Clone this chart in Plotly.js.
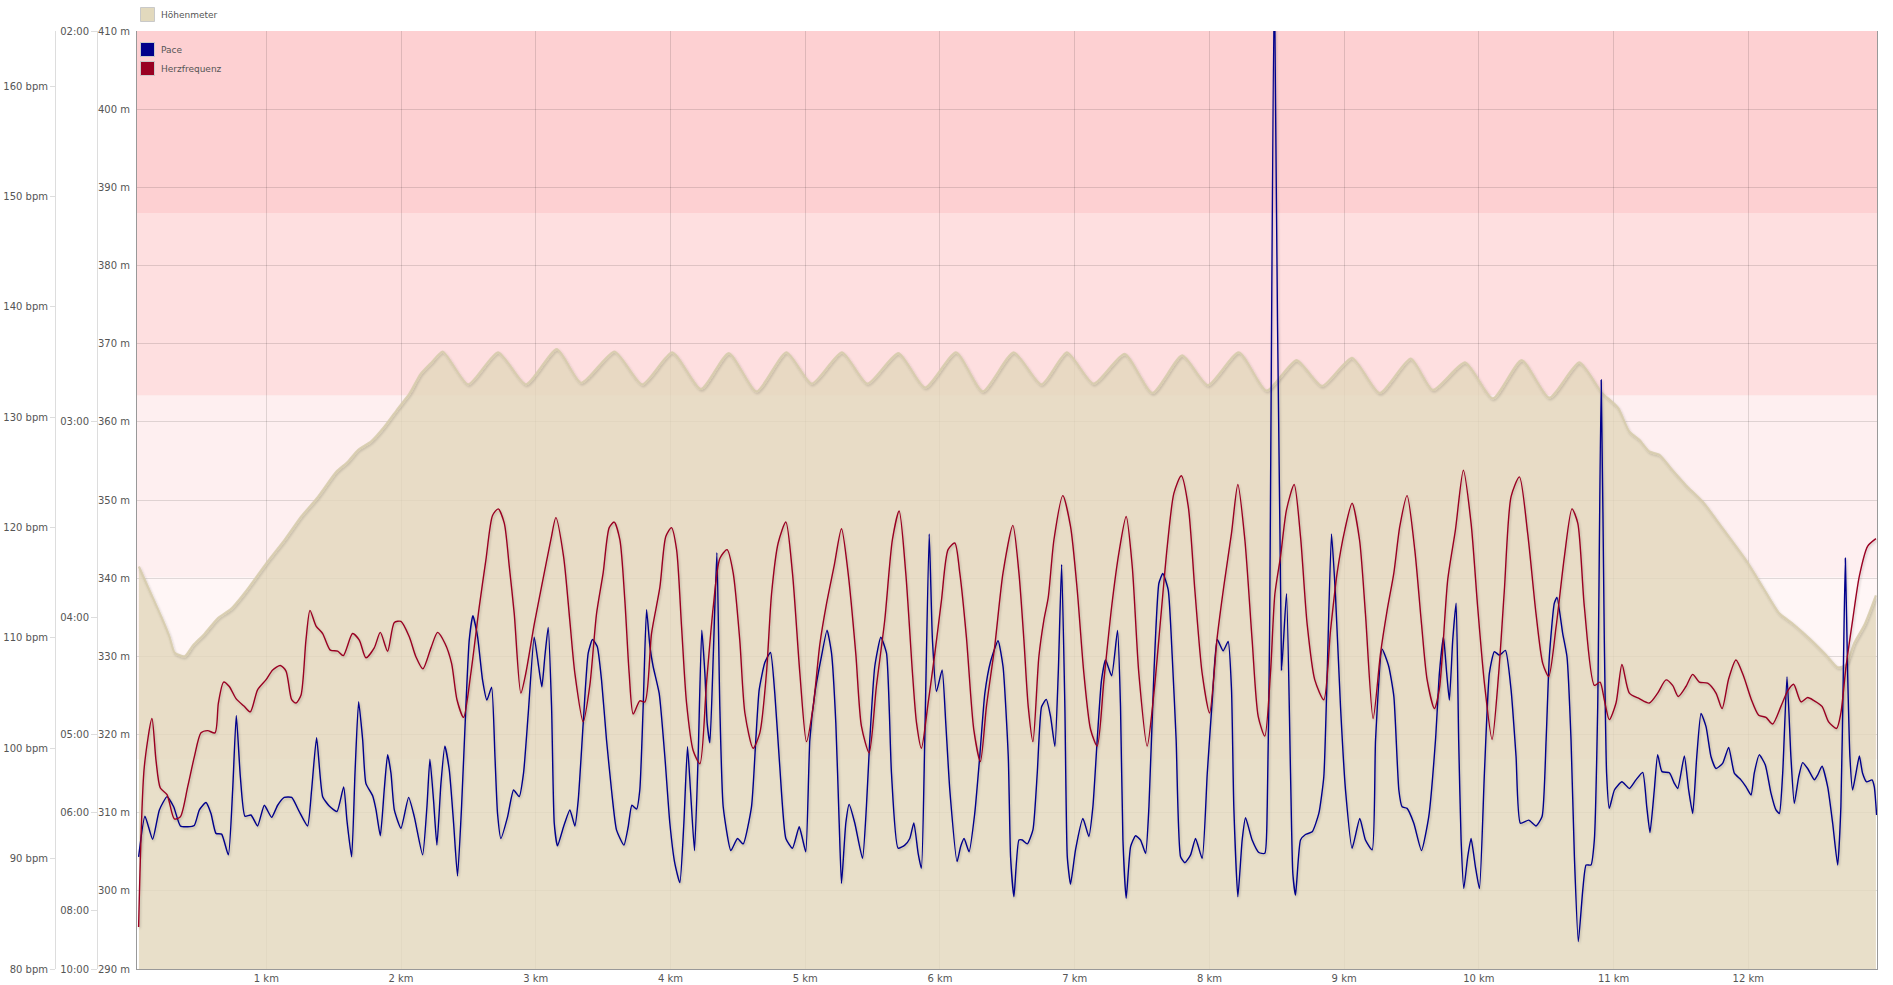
<!DOCTYPE html>
<html>
<head>
<meta charset="utf-8">
<script src="https://cdn.plot.ly/plotly-3.0.1.min.js"></script>
<style>
  html, body { margin: 0; padding: 0; background: #fff; }
  #chart { width: 1893px; height: 985px; }
  #chart .scatterlayer .trace .js-line { filter: url(#sh); }
</style>
</head>
<body>
<svg width="0" height="0" style="position:absolute">
  <defs>
    <filter id="sh" x="-2%" y="-2%" width="104%" height="110%">
      <feDropShadow dx="1" dy="1.5" stdDeviation="1" flood-color="#000" flood-opacity="0.2"/>
    </filter>
  </defs>
</svg>
<div id="chart"></div>
<script>
// ---------- data (distance in km) ----------
const elevKm = [0.054,0.121,0.220,0.282,0.319,0.393,0.455,0.542,0.641,0.740,0.838,0.999,1.135,1.259,1.383,1.519,1.605,1.680,1.778,1.877,1.976,2.062,2.144,2.226,
  2.309,2.498,2.720,2.926,3.156,3.337,3.584,3.790,4.012,4.226,4.432,4.638,4.860,5.049,5.272,5.461,5.691,5.889,6.119,6.317,6.547,6.753,6.942,7.140,7.370,7.576,
  7.798,7.988,8.218,8.424,8.646,8.835,9.058,9.263,9.494,9.658,9.897,10.103,10.317,10.523,10.745,
  10.909,11.033,11.115,11.191,11.265,11.339,11.438,11.537,11.661,11.809,11.983,12.106,12.230,12.329,12.453,12.576,12.663,12.725,12.786,12.861,12.947];
const elevM = [341.5,338.9,335.1,332.5,330.5,330.0,331.4,332.9,334.9,336.1,338.1,341.9,344.9,347.9,350.4,353.6,354.9,356.4,357.5,359.4,361.7,363.6,366.1,367.6,
  369.0,364.8,368.9,364.8,369.3,365.0,369.0,364.8,368.9,364.2,368.8,363.9,368.9,364.9,368.9,364.9,368.8,364.4,368.9,363.9,368.9,364.8,368.9,364.9,368.7,363.7,
  368.5,364.7,368.9,364.0,367.9,364.6,368.2,363.7,368.1,364.1,367.6,363.0,367.9,363.1,367.6,
  363.8,361.8,358.8,357.7,356.2,355.8,353.8,351.9,349.8,346.4,342.3,338.9,335.5,334.2,332.3,330.2,328.6,328.9,331.7,334.0,337.8];

const hrKm = [0.052,0.094,0.151,0.181,0.213,0.263,0.317,0.362,0.416,0.465,0.515,0.564,0.619,0.644,0.683,0.725,0.775,0.836,0.881,0.935,0.997,1.047,1.104,1.146,
  1.188,1.220,1.257,1.294,1.324,1.368,1.418,1.475,1.529,1.571,1.640,1.690,1.739,1.801,1.846,1.900,1.950,1.999,2.061,2.110,2.162,2.222,2.271,2.326,2.375,2.415,
  2.464,2.518,2.580,2.630,2.679,2.721,2.766,2.803,2.840,2.889,2.926,2.988,3.050,3.112,3.149,3.206,
  3.253,3.290,3.352,3.401,3.451,3.500,3.545,3.582,3.624,3.661,3.693,3.723,3.772,3.810,3.859,3.921,3.965,4.007,4.045,4.082,4.119,4.168,4.218,4.267,4.317,4.366,
  4.420,4.465,4.514,4.552,4.613,4.663,4.712,4.750,4.799,4.856,4.905,4.960,5.009,5.059,5.108,5.158,5.214,5.269,5.318,5.375,5.417,5.474,5.528,5.590,5.647,5.697,
  5.746,5.796,5.826,5.862,5.912,5.962,6.011,6.060,6.110,6.147,6.196,6.251,6.300,6.345,6.406,6.468,
  6.541,6.586,6.623,6.655,6.690,6.734,6.771,6.804,6.846,6.912,6.969,7.019,7.068,7.118,7.167,7.217,7.274,7.328,7.382,7.427,7.476,7.538,7.588,7.637,7.687,7.736,
  7.791,7.843,7.892,7.946,8.001,8.058,8.107,8.164,8.211,8.263,8.317,8.362,8.411,8.453,8.486,8.528,8.572,8.629,8.676,8.725,8.782,8.849,8.899,8.948,9.005,9.059,
  9.114,9.158,9.215,9.270,9.319,9.369,9.413,9.467,9.524,9.574,9.616,9.670,
  9.707,9.769,9.826,9.885,9.942,9.991,10.041,10.098,10.147,10.189,10.239,10.301,10.362,10.424,10.474,10.518,10.573,10.635,10.691,10.734,10.783,10.857,10.899,
  10.931,10.968,11.018,11.062,11.117,11.191,11.265,11.327,11.389,11.438,11.480,11.537,11.587,11.636,11.698,11.760,11.805,11.854,11.908,11.963,12.020,12.077,
  12.131,12.180,12.242,12.292,12.336,12.391,12.440,12.490,12.547,12.596,12.655,12.687,12.725,12.774,12.824,12.885,12.947];
const hrBpm = [83.8,98.3,102.7,98.9,96.4,95.8,93.6,93.8,96.5,99.2,101.4,101.6,101.4,104.1,106.0,105.6,104.5,103.8,103.3,105.3,106.2,107.1,107.5,107.0,
  104.4,104.1,104.8,109.8,112.5,111.1,110.4,108.9,108.8,108.4,110.4,109.8,108.2,109.1,110.5,108.8,111.4,111.5,110.1,108.3,107.2,109.1,110.5,109.5,107.7,104.4,
  102.8,106.8,112.8,117.1,121.1,121.7,120.4,116.5,112.2,105.0,106.8,111.2,115.1,118.9,120.9,117.4,
  111.5,106.8,102.4,105.7,112.2,115.9,120.0,120.5,118.9,113.4,106.8,103.1,104.3,104.2,110.4,114.6,119.2,120.0,118.0,111.0,104.1,99.8,98.6,105.9,112.8,117.2,
  118.0,115.9,109.8,103.2,100.0,101.4,106.8,114.0,118.6,120.5,115.9,106.8,100.6,103.8,109.4,113.1,116.5,119.9,115.9,108.6,102.0,99.6,105.6,111.6,118.9,121.5,
  115.9,106.8,102.3,100.0,104.1,108.6,113.4,118.0,118.6,115.9,110.1,101.7,98.8,103.8,109.2,115.9,
  120.2,115.9,109.8,103.8,100.6,108.3,111.6,113.7,118.9,122.9,120.1,114.3,106.8,101.7,100.2,106.2,112.8,117.7,121.0,116.5,106.8,100.2,105.0,111.6,118.3,123.1,
  124.7,121.9,114.3,106.8,103.2,110.1,114.7,119.5,123.9,118.9,109.8,102.9,101.1,106.8,114.0,117.4,121.6,123.9,119.2,111.3,106.2,104.4,110.7,115.9,119.8,122.2,
  118.9,112.2,102.7,108.6,112.5,115.9,120.1,122.9,118.0,111.3,106.2,103.6,
  105.4,115.3,119.8,125.2,120.4,112.8,105.9,100.8,106.8,114.3,122.8,124.6,119.5,112.2,107.7,106.5,111.0,117.4,121.7,120.4,112.8,105.7,106.0,
  104.4,102.6,104.1,107.6,105.0,104.5,104.1,105.0,106.2,105.7,104.7,105.6,106.7,106.0,105.9,105.0,103.6,106.3,108.0,106.6,104.5,103.0,
  102.8,102.2,103.8,105.2,105.8,104.2,104.6,104.3,103.8,102.4,101.8,103.2,107.4,111.6,115.6,118.3,119.0];

// pace, stored as speed in km/h (the pace axis is linear in speed)
const paceKm = [0.052,0.099,0.156,0.206,0.263,0.312,0.362,0.416,0.465,0.503,0.552,0.589,0.626,0.668,0.718,0.750,0.777,0.807,0.841,0.886,0.935,0.985,1.039,
  1.084,1.133,1.188,1.244,1.306,1.336,1.373,1.418,1.467,1.524,1.574,1.598,1.633,1.658,1.685,1.715,1.739,1.789,1.814,1.846,1.875,1.900,1.925,1.950,1.999,2.056,
  2.098,2.160,2.192,2.214,2.241,2.266,2.296,2.325,2.358,2.390,2.419,2.449,2.481,2.506,2.533,2.568,2.605,2.637,2.672,2.697,2.716,2.741,2.791,2.835,2.877,2.909,
  2.944,2.988,3.021,3.045,3.067,3.092,3.117,3.137,3.161,3.206,
  3.253,3.290,3.315,3.352,3.389,3.421,3.456,3.488,3.525,3.562,3.599,3.654,3.686,3.713,3.748,3.772,3.797,3.822,3.847,3.871,3.916,3.958,3.995,4.032,4.069,4.099,
  4.126,4.148,4.178,4.205,4.232,4.255,4.272,4.292,4.317,4.344,4.366,4.391,4.448,4.497,4.539,4.601,4.633,4.658,4.700,4.742,4.774,4.811,4.856,4.905,4.955,4.979,
  5.004,5.034,5.071,5.120,5.162,5.195,5.227,5.252,5.269,5.301,5.326,5.368,5.425,5.454,5.479,5.516,5.561,5.603,5.640,5.689,5.739,5.776,5.806,5.838,5.862,5.887,
  5.920,5.944,5.974,6.016,6.043,6.073,6.127,6.153,6.179,6.216,6.258,6.295,6.333,6.375,6.431,6.468,
  6.507,6.524,6.549,6.586,6.611,6.648,6.690,6.722,6.754,6.789,6.821,6.853,6.878,6.903,6.927,6.945,6.969,7.006,7.061,7.105,7.135,7.167,7.199,7.229,7.274,7.318,
  7.340,7.358,7.382,7.415,7.452,7.489,7.526,7.551,7.588,7.625,7.654,7.694,7.724,7.753,7.786,7.818,7.860,7.897,7.946,7.984,8.021,8.058,8.102,8.139,8.164,8.181,
  8.211,8.243,8.268,8.317,8.367,8.411,8.429,8.446,8.482,8.535,8.572,8.602,8.619,8.639,8.676,8.713,8.763,8.812,8.849,8.874,8.906,8.936,8.973,9.010,9.059,9.116,
  9.158,9.208,9.233,9.282,9.331,9.369,9.406,9.430,9.467,9.517,9.574,9.628,9.678,
  9.707,9.737,9.761,9.781,9.806,9.831,9.850,9.868,9.888,9.917,9.942,9.974,10.004,10.041,10.078,10.115,10.152,10.197,10.239,10.276,10.308,10.370,10.424,10.469,
  10.499,10.523,10.560,10.580,10.622,10.654,10.684,10.709,10.738,10.771,10.796,10.832,10.857,10.882,10.908,10.931,10.948,10.968,11.006,11.062,11.117,11.166,
  11.216,11.246,11.270,11.302,11.327,11.359,11.414,11.451,11.476,11.525,11.557,11.587,11.617,11.649,11.686,11.723,11.760,11.809,11.854,11.896,11.945,11.983,
  12.020,12.044,12.081,12.126,12.168,12.205,12.230,12.255,12.287,12.316,12.341,12.374,12.403,12.440,12.490,12.514,12.547,12.589,12.626,12.663,12.687,12.705,
  12.720,12.737,12.754,12.774,12.799,12.824,12.848,12.878,12.918,12.935,12.952];
const paceSpeed = [8.87,9.91,9.32,10.07,10.41,10.15,9.66,9.64,9.67,10.07,10.26,9.98,9.47,9.45,8.92,10.58,12.49,10.92,9.91,9.94,9.66,10.19,9.88,
  10.19,10.39,10.39,10.03,9.66,10.58,11.92,10.41,10.17,10.03,10.66,9.81,8.87,11.01,12.84,11.86,10.75,10.43,10.07,9.41,10.58,11.48,11.01,10.07,9.60,10.39,
  9.90,8.92,10.15,11.37,10.32,9.17,10.75,11.70,11.09,9.73,8.38,10.15,12.71,14.42,15.04,14.50,13.39,12.88,13.21,11.43,9.98,9.34,9.90,10.58,10.41,11.01,
  12.54,14.49,13.74,13.22,13.99,14.74,12.71,9.73,9.15,9.64,
  10.07,9.66,10.32,12.29,14.08,14.43,14.25,13.39,11.86,10.58,9.56,9.17,9.64,10.19,10.09,10.58,12.71,15.19,14.25,13.74,13.05,11.43,9.73,8.70,8.21,9.73,
  11.69,10.58,9.03,11.43,14.67,13.57,12.29,11.79,13.99,16.65,12.71,10.15,9.03,9.34,9.20,10.15,11.86,13.14,13.84,14.10,13.05,11.18,9.34,9.09,9.64,9.34,
  9.00,11.86,13.05,13.99,14.67,14.08,12.29,9.73,8.19,9.73,10.21,9.73,8.83,10.15,11.86,13.74,14.49,14.08,11.01,9.09,9.17,9.34,9.74,8.96,8.58,11.86,
  17.13,14.42,13.10,13.65,12.29,10.58,8.75,9.13,9.34,9.00,9.98,11.43,13.05,13.86,14.40,13.74,
  11.43,8.87,7.85,9.30,9.30,9.20,9.56,11.01,12.71,12.90,12.46,11.70,13.57,16.35,12.71,8.87,8.17,9.05,9.85,9.39,10.15,11.86,13.39,13.91,13.50,14.66,
  12.71,9.30,7.81,9.13,9.41,9.30,8.96,10.15,13.57,15.87,16.12,15.70,13.99,11.86,8.87,8.72,8.92,9.34,8.83,11.01,12.88,14.43,14.14,14.38,13.14,10.15,
  7.85,9.30,9.87,9.30,8.98,8.96,10.15,14.42,31.5,13.65,15.60,11.01,8.45,7.89,9.30,9.44,9.51,9.98,10.92,13.57,17.13,15.53,12.71,10.58,9.09,9.85,
  9.30,9.05,11.86,14.18,13.74,12.97,10.58,10.15,10.11,9.73,9.03,9.90,11.86,
  13.57,14.50,13.57,12.88,14.42,15.36,11.86,9.30,8.06,8.87,9.34,8.62,8.06,11.01,13.57,14.12,14.03,14.15,13.14,11.43,9.73,9.81,9.66,9.90,
  11.86,13.99,15.36,15.51,14.59,13.99,11.86,8.87,6.70,8.02,8.66,8.66,9.30,12.71,21.07,14.42,11.01,10.11,10.58,10.79,10.62,10.84,
  11.03,10.15,9.49,10.58,11.48,11.05,11.02,10.75,10.62,11.45,10.58,9.98,11.43,12.54,12.20,11.43,11.13,11.26,11.67,11.01,10.84,10.66,
  10.45,11.01,11.48,11.22,10.50,10.07,9.98,11.01,13.48,11.43,10.24,10.92,11.28,11.13,10.84,10.96,11.19,10.66,9.73,8.66,10.15,13.57,
  16.51,13.57,11.43,10.58,11.01,11.45,11.01,10.79,10.84,10.66,9.94];

// pace axis ticks (speed in km/h -> pace label)
const paceTickSpeed = [6, 7.5, 10, 12, 15, 20, 30];
const paceTickText = ['10:00', '08:00', '06:00', '05:00', '04:00', '03:00', '02:00'];

// heart-rate axis range and zones (bpm) with their tint strength
const hrRange = [80, 165];
const hrZoneLow  = [99, 115.5, 132, 148.5];
const hrZoneHigh = [115.5, 132, 148.5, 165];
const hrZoneAlpha = [0.035, 0.063, 0.125, 0.184];

const seriesNames = ['Höhenmeter', 'Pace', 'Herzfrequenz'];
const colElev = '#e2d9bd';
const colPace = '#00008b';
const colHr = '#990022';

// ---------- figure ----------
const W = 1893, H = 985, ML = 0, MR = 16, MT = 31, MB = 16;
const PW = W - ML - MR, PH = H - MT - MB;
const px = v => v / PW;   // pixel -> paper x
const hrFrac = v => (v - hrRange[0]) / (hrRange[1] - hrRange[0]);

const traces = [
  { x: elevKm, y: elevM, yaxis: 'y', type: 'scatter', mode: 'lines', name: seriesNames[0],
    line: { color: 'rgba(214,203,172,0.85)', width: 2.2, shape: 'spline', smoothing: 0.6 },
    fill: 'tozeroy', fillcolor: 'rgba(226,215,188,0.8)', showlegend: false, hoverinfo: 'skip' },
  { x: hrKm, y: hrBpm, yaxis: 'y3', type: 'scatter', mode: 'lines', name: seriesNames[2],
    line: { color: colHr, width: 1.4, shape: 'spline', smoothing: 0.7 }, showlegend: false },
  { x: paceKm, y: paceSpeed, yaxis: 'y2', type: 'scatter', mode: 'lines', name: seriesNames[1],
    line: { color: colPace, width: 1.4, shape: 'spline', smoothing: 0.5 }, showlegend: false },
  // legend entries (square swatches)
  { x: [null], y: [null], type: 'scatter', mode: 'markers', name: seriesNames[0], legend: 'legend',
    marker: { symbol: 'square', size: 14, color: colElev, line: { color: '#c9c9c9', width: 1 } } },
  { x: [null], y: [null], type: 'scatter', mode: 'markers', name: seriesNames[1], legend: 'legend2',
    marker: { symbol: 'square', size: 14, color: colPace, line: { color: '#c9c9c9', width: 1 } } },
  { x: [null], y: [null], type: 'scatter', mode: 'markers', name: seriesNames[2], legend: 'legend2',
    marker: { symbol: 'square', size: 14, color: colHr, line: { color: '#c9c9c9', width: 1 } } }
];

const shapes = hrZoneLow.map((lo, i) => ({
  type: 'rect', xref: 'paper', x0: px(137), x1: 1, yref: 'paper', y0: hrFrac(lo), y1: hrFrac(hrZoneHigh[i]),
  fillcolor: `rgba(245,0,10,${hrZoneAlpha[i]})`, line: { width: 0 }, layer: 'below'
}));

const axisFont = { family: 'DejaVu Sans, Verdana, sans-serif', size: 10, color: '#555' };
const legendFont = { family: 'DejaVu Sans, Verdana, sans-serif', size: 9, color: '#555' };
const gridCol = 'rgba(0,0,0,0.12)';

const layout = {
  width: W, height: H,
  margin: { l: ML, r: MR, t: MT, b: MB, pad: 0 },
  paper_bgcolor: '#fff', plot_bgcolor: 'rgba(0,0,0,0)',
  font: axisFont,
  showlegend: true,
  xaxis: {
    domain: [px(137), 1], range: [0.04, 12.955], tick0: 0, dtick: 1, ticksuffix: ' km',
    showgrid: true, gridcolor: gridCol, gridwidth: 1, zeroline: false,
    showline: true, linecolor: '#999', linewidth: 1, ticks: '', ticklabelstandoff: 0,
    tickfont: axisFont, automargin: false, fixedrange: true
  },
  yaxis: {
    range: [290, 410], tick0: 290, dtick: 10, ticksuffix: ' m',
    showgrid: true, gridcolor: gridCol, zeroline: false,
    showline: true, linecolor: '#999', linewidth: 1, mirror: true, ticks: '', ticklabelstandoff: 4,
    tickfont: axisFont, automargin: false, fixedrange: true
  },
  yaxis2: {
    overlaying: 'y', anchor: 'free', position: px(97), side: 'left',
    range: [6, 30], tickmode: 'array', tickvals: paceTickSpeed, ticktext: paceTickText,
    showgrid: false, zeroline: false, showline: true, linecolor: '#dddddd', linewidth: 1,
    ticks: 'outside', ticklen: 6, tickcolor: '#dddddd', tickfont: axisFont, automargin: false, fixedrange: true
  },
  yaxis3: {
    overlaying: 'y', anchor: 'free', position: px(55), side: 'left',
    range: hrRange, tick0: 80, dtick: 10, ticksuffix: ' bpm',
    showgrid: false, zeroline: false, showline: true, linecolor: '#dddddd', linewidth: 1,
    ticks: 'outside', ticklen: 5, tickcolor: '#dddddd', tickfont: axisFont, automargin: false, fixedrange: true
  },
  legend: {
    x: px(121), xanchor: 'left', y: 1 + MT / PH, yanchor: 'top', orientation: 'v',
    bgcolor: 'rgba(0,0,0,0)', borderwidth: 0, font: legendFont
  },
  legend2: {
    x: px(121), xanchor: 'left', y: 1 - 4 / PH, yanchor: 'top', orientation: 'v',
    bgcolor: 'rgba(0,0,0,0)', borderwidth: 0, tracegroupgap: 0, font: legendFont
  },
  shapes: shapes,
  hovermode: false
};

Plotly.newPlot('chart', traces, layout, { displayModeBar: false, staticPlot: true }).then(gd => {
  // nudge legend swatches closer to their labels
  gd.querySelectorAll('.legendpoints').forEach(g => g.setAttribute('transform', 'translate(6.5,0)'));
});
</script>
</body>
</html>
